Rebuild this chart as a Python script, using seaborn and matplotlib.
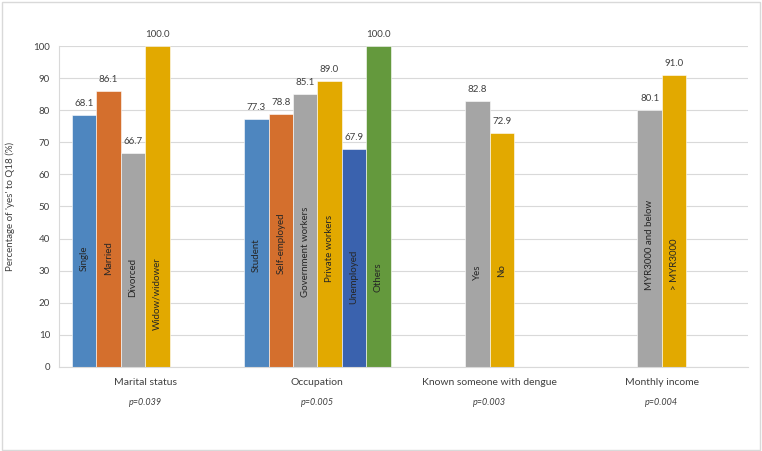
import numpy as np
import pandas as pd
import seaborn as sns
from matplotlib import pyplot as plt
from matplotlib.patches import Rectangle

# groups on the x axis and the p-values under them
groups = ['Marital status', 'Occupation', 'Known someone with dengue', 'Monthly income']
p_values = ['p=0.039', 'p=0.005', 'p=0.003', 'p=0.004']

# one row per bar: group, series slot (1-6), bar name, bar height, printed value
bar_group = [0, 0, 0, 0, 1, 1, 1, 1, 1, 1, 2, 2, 3, 3]
bar_slot = [1, 2, 3, 4, 1, 2, 3, 4, 5, 6, 3, 4, 3, 4]
bar_names = ['Single', 'Married', 'Divorced', 'Widow/widower',
             'Student', 'Self-employed', 'Government workers', 'Private workers', 'Unemployed', 'Others',
             'Yes', 'No',
             'MYR3000 and below', '> MYR3000']
bar_heights = [78.6, 86.1, 66.7, 100.0,
               77.3, 78.8, 85.1, 89.0, 67.9, 100.0,
               82.8, 72.9,
               80.1, 91.0]
bar_values = ['68.1', '86.1', '66.7', '100.0',
              '77.3', '78.8', '85.1', '89.0', '67.9', '100.0',
              '82.8', '72.9',
              '80.1', '91.0']
# where the rotated name sits inside each bar (centre, in % units)
name_pos = [34, 34, 28, 23,
            35, 38.5, 36, 37, 28, 28,
            29.5, 30,
            38, 32]

slots = ['s1', 's2', 's3', 's4', 's5', 's6']
colors = ['#4E86BF', '#D46F2D', '#A5A5A5', '#E2A900', '#3A62AE', '#64993D']

df = pd.DataFrame({
    'group': [groups[g] for g in bar_group],
    'slot': ['s%d' % s for s in bar_slot],
    'height': bar_heights,
})

sns.set_style('white')
plt.rcParams['font.family'] = ['Lato', 'DejaVu Sans']
txt = '#404040'

fig = plt.figure(figsize=(7.62, 4.51), dpi=100)
ax = fig.add_axes([0.0774, 0.1863, 0.9042, 0.7117])

width = 0.85
sns.barplot(data=df, x='group', y='height', hue='slot', order=groups, hue_order=slots,
            palette=colors, width=width, dodge=True, saturation=1, legend=False,
            edgecolor='white', linewidth=0.4, ax=ax)

ax.set_ylim(0, 100)
ax.set_xlim(-0.5, len(groups) - 0.5)
ax.set_yticks(np.arange(0, 101, 10))
ax.yaxis.grid(True, color='#D9D9D9', linewidth=0.8)
ax.set_axisbelow(True)
for s in ['top', 'right']:
    ax.spines[s].set_visible(False)
ax.spines['left'].set_color('#D9D9D9')
ax.spines['bottom'].set_color('#D9D9D9')
ax.tick_params(axis='both', length=0, labelsize=7, colors=txt)
ax.tick_params(axis='y', pad=6.5)
ax.tick_params(axis='x', pad=8, labelsize=7.5)
ax.set_xlabel('')
ax.set_ylabel("Percentage of 'yes' to Q18 (%)", fontsize=7, color=txt, labelpad=13)

# names inside the bars and the values above them
slot_w = width / len(slots)
lookup = {(g, s): i for i, (g, s) in enumerate(zip(bar_group, bar_slot))}
for p in ax.patches:
    if p.get_height() <= 0:
        continue
    cx = p.get_x() + p.get_width() / 2
    g = int(round(cx))
    s = int(round((cx - g + width / 2) / slot_w - 0.5)) + 1
    i = lookup.get((g, s))
    if i is None:
        continue
    ax.text(cx, bar_heights[i] + 2.2, bar_values[i], ha='center', va='bottom',
            fontsize=7, color=txt)
    ax.text(cx, name_pos[i], bar_names[i], rotation=90, ha='center', va='center',
            fontsize=7, color='#262626')

for i, pv in enumerate(p_values):
    ax.text(i, -0.11, pv, ha='center', va='center', fontsize=6.5, style='italic',
            color=txt, transform=ax.get_xaxis_transform())

fig.patches.append(Rectangle((0.002, 0.003), 0.995, 0.993, transform=fig.transFigure,
                             fill=False, edgecolor='#D9D9D9', linewidth=1))

plt.savefig('out.png', dpi=100)
